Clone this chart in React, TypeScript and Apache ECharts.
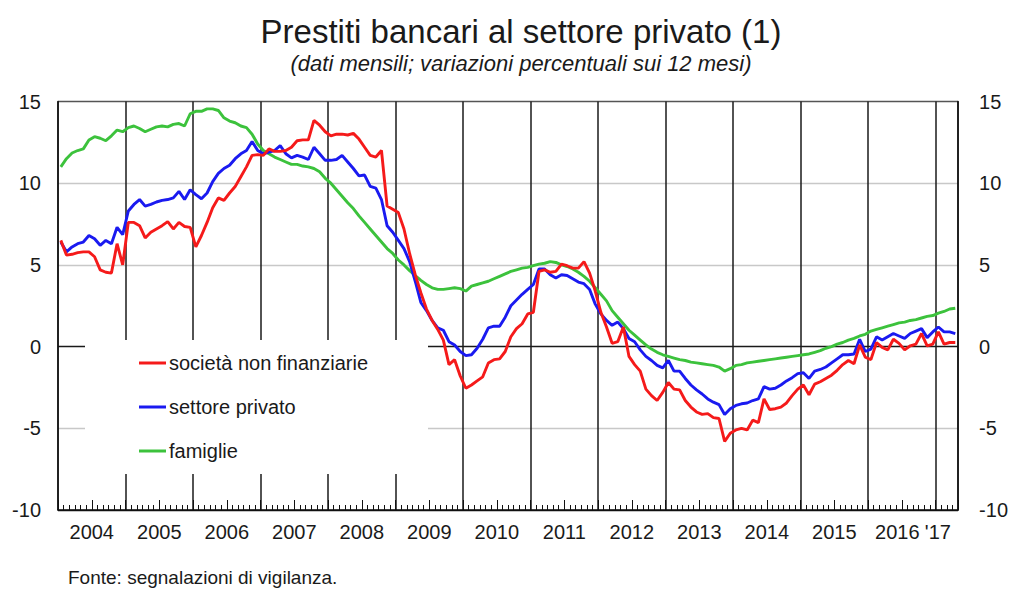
import React, { useEffect, useRef } from "react";
import * as echarts from "echarts";

const FONT = "'Liberation Sans', Arial, Helvetica, sans-serif";

const titleText = "Prestiti bancari al settore privato (1)";
const subtitleText = "(dati mensili; variazioni percentuali sui 12 mesi)";
const sourceText = "Fonte: segnalazioni di vigilanza.";

const seriesNames = ["società non finanziarie", "settore privato", "famiglie"];
const seriesColors = ["#f51a1a", "#1a1af0", "#3cc23c"];

// year labels (last one for 2017)
const yearLabels = [
  "2004", "2005", "2006", "2007", "2008", "2009", "2010",
  "2011", "2012", "2013", "2014", "2015", "2016", "'17",
];
// label position in months from Jan 2004 (centre of each year; last two nudged apart as in the original)
const yearLabelPos = [6, 18, 30, 42, 54, 66, 78, 90, 102, 114, 126, 138, 149.2, 156.4];

// monthly categories: Jan 2004 – Apr 2017
const months: string[] = [];
for (let y = 2004; y <= 2017; y++) {
  for (let m = 1; m <= 12; m++) {
    if (y === 2017 && m > 4) break;
    months.push(`${y}-${String(m).padStart(2, "0")}`);
  }
}

const yTicks = [-10, -5, 0, 5, 10, 15];

// società non finanziarie (12-month % change)
const societaNonFinanziarie = [
  6.5, 5.6, 5.65, 5.75, 5.8, 5.8, 5.5, 4.7, 4.55, 4.5, 6.3, 5.0, // 2004
  7.6, 7.6, 7.4, 6.65, 7.0, 7.2, 7.4, 7.65, 7.2, 7.6, 7.35, 7.3, // 2005
  6.1, 6.8, 7.6, 8.5, 9.1, 8.95, 9.4, 9.8, 10.4, 11.0, 11.7, 11.75, // 2006
  11.7, 12.1, 11.95, 11.95, 12.0, 12.2, 12.6, 12.65, 12.65, 13.85, 13.55, 13.15, // 2007
  12.9, 13.0, 13.0, 12.95, 13.05, 12.7, 12.2, 11.7, 11.6, 12.0, 8.6, 8.4, // 2008
  8.2, 7.2, 5.7, 4.4, 3.3, 2.3, 1.6, 1.05, 0.4, -1.1, -0.8, -1.8, // 2009
  -2.55, -2.35, -2.1, -1.85, -1.0, -0.8, -0.75, -0.3, 0.6, 1.1, 1.4, 2.0, // 2010
  2.1, 4.6, 4.7, 4.55, 4.6, 5.05, 4.95, 4.8, 4.8, 5.2, 4.5, 3.4, // 2011
  2.1, 1.2, 0.2, 0.3, 1.2, -0.6, -1.1, -1.5, -2.6, -3.0, -3.3, -2.8, // 2012
  -2.2, -2.6, -2.65, -3.3, -3.7, -4.0, -4.15, -4.1, -4.35, -4.4, -5.8, -5.3, // 2013
  -5.1, -5.0, -5.1, -4.5, -4.65, -3.2, -3.85, -3.8, -3.7, -3.45, -3.0, -2.6, // 2014
  -2.35, -2.95, -2.3, -2.15, -1.95, -1.75, -1.45, -1.1, -0.85, -1.05, 0.1, -0.65, // 2015
  -0.8, 0.25, -0.05, -0.2, 0.45, 0.2, -0.2, 0.05, 0.15, 0.8, 0.05, 0.15, // 2016
  0.9, 0.15, 0.25, 0.25, // 2017
];

// settore privato
const settorePrivato = [
  6.4, 5.8, 6.1, 6.3, 6.4, 6.8, 6.6, 6.2, 6.5, 6.3, 7.3, 6.85, // 2004
  8.3, 8.7, 9.0, 8.6, 8.7, 8.85, 8.95, 9.0, 9.1, 9.5, 9.0, 9.6, // 2005
  9.3, 9.05, 9.4, 10.1, 10.6, 10.9, 11.1, 11.5, 11.8, 12.0, 12.55, 12.0, // 2006
  11.8, 11.9, 12.0, 12.3, 11.8, 11.55, 11.7, 11.6, 11.45, 12.2, 11.8, 11.4, // 2007
  11.4, 11.45, 11.7, 11.3, 10.9, 10.45, 10.5, 9.8, 9.7, 9.0, 7.4, 7.0, // 2008
  6.5, 6.0, 5.2, 4.0, 2.7, 2.2, 1.6, 1.15, 1.0, 0.3, 0.1, -0.3, // 2009
  -0.55, -0.5, -0.1, 0.45, 1.15, 1.25, 1.25, 1.8, 2.5, 2.85, 3.2, 3.5, // 2010
  3.8, 4.75, 4.75, 4.4, 4.2, 4.4, 4.35, 4.15, 3.95, 3.85, 3.5, 2.6, // 2011
  2.0, 1.6, 1.3, 1.5, 1.1, 0.5, 0.3, -0.2, -0.6, -0.85, -1.15, -1.3, // 2012
  -0.85, -1.5, -1.5, -1.95, -2.35, -2.65, -2.9, -3.2, -3.4, -3.55, -4.15, -3.8, // 2013
  -3.6, -3.5, -3.45, -3.3, -3.2, -2.45, -2.6, -2.55, -2.35, -2.1, -1.9, -1.65, // 2014
  -1.6, -1.95, -1.5, -1.4, -1.25, -1.0, -0.75, -0.5, -0.5, -0.45, 0.45, -0.3, // 2015
  -0.15, 0.6, 0.4, 0.6, 0.8, 0.65, 0.5, 0.8, 0.95, 1.1, 0.55, 0.9, // 2016
  1.2, 0.9, 0.9, 0.8, // 2017
];

// famiglie
const famiglie = [
  11.0, 11.5, 11.85, 12.0, 12.1, 12.65, 12.85, 12.75, 12.6, 12.9, 13.25, 13.15, // 2004
  13.4, 13.5, 13.35, 13.15, 13.3, 13.45, 13.5, 13.45, 13.6, 13.65, 13.5, 14.25, // 2005
  14.4, 14.4, 14.55, 14.55, 14.45, 14.0, 13.8, 13.7, 13.5, 13.4, 13.0, 12.4, // 2006
  12.0, 11.8, 11.6, 11.45, 11.3, 11.15, 11.15, 11.05, 11.0, 10.9, 10.7, 10.3, // 2007
  10.0, 9.6, 9.2, 8.8, 8.45, 8.0, 7.6, 7.2, 6.8, 6.4, 6.0, 5.7, // 2008
  5.3, 5.0, 4.65, 4.35, 4.05, 3.8, 3.6, 3.5, 3.5, 3.55, 3.6, 3.55, // 2009
  3.4, 3.7, 3.8, 3.9, 4.0, 4.15, 4.3, 4.45, 4.6, 4.7, 4.8, 4.85, // 2010
  4.95, 5.05, 5.1, 5.2, 5.15, 5.0, 4.9, 4.75, 4.55, 4.3, 4.0, 3.6, // 2011
  3.2, 2.8, 2.2, 1.8, 1.4, 1.0, 0.7, 0.4, 0.1, -0.15, -0.35, -0.5, // 2012
  -0.6, -0.7, -0.8, -0.85, -0.95, -1.0, -1.05, -1.1, -1.15, -1.25, -1.5, -1.35, // 2013
  -1.15, -1.1, -1.0, -0.95, -0.9, -0.85, -0.8, -0.75, -0.7, -0.65, -0.6, -0.55, // 2014
  -0.5, -0.45, -0.35, -0.25, -0.1, 0.0, 0.15, 0.25, 0.4, 0.5, 0.65, 0.75, // 2015
  0.95, 1.05, 1.15, 1.25, 1.35, 1.45, 1.5, 1.6, 1.65, 1.75, 1.85, 1.9, // 2016
  2.05, 2.15, 2.3, 2.35, // 2017
];

const seriesData = [societaNonFinanziarie, settorePrivato, famiglie];

export default function App() {
  const ref = useRef<HTMLDivElement>(null);

  useEffect(() => {
    if (!ref.current) return;
    const chart = echarts.init(ref.current, undefined, { renderer: "svg" });
    const nMonths = months.length;

    const option: any = {
      animation: false,
      backgroundColor: "#ffffff",
      textStyle: { fontFamily: FONT },
      title: [
        {
          text: titleText,
          left: 521,
          top: 15,
          textAlign: "center",
          padding: 0,
          textStyle: { fontSize: 33, fontWeight: "normal", color: "#1a1a1a", fontFamily: FONT },
        },
        {
          text: subtitleText,
          left: 521,
          top: 52,
          textAlign: "center",
          padding: 0,
          textStyle: { fontSize: 22, fontWeight: "normal", fontStyle: "italic", color: "#1a1a1a", fontFamily: FONT },
        },
        {
          text: sourceText,
          left: 68,
          top: 568,
          padding: 0,
          textStyle: { fontSize: 19, fontWeight: "normal", color: "#1a1a1a", fontFamily: FONT },
        },
      ],
      legend: {
        orient: "vertical",
        left: 139,
        top: 353,
        padding: 0,
        itemWidth: 27,
        itemHeight: 3,
        itemGap: 24,
        icon: "rect",
        data: seriesNames,
        textStyle: { fontSize: 20, color: "#1a1a1a", fontFamily: FONT, lineHeight: 20, padding: [0, 0, 0, -2] },
      },
      grid: { left: 58, right: 52, top: 101.5, bottom: 80, containLabel: false },
      xAxis: [
        {
          type: "category",
          data: months,
          boundaryGap: true,
          position: "bottom",
          axisLine: { show: true, onZero: false, lineStyle: { color: "#111", width: 1.5 } },
          axisTick: { show: true, interval: 0, inside: true, length: 5, lineStyle: { color: "#111", width: 1 } },
          axisLabel: { show: false },
          splitLine: {
            show: true,
            interval: (i: number) => i % 12 === 0,
            lineStyle: { color: "#1a1a1a", width: 1.5 },
          },
        },
        {
          type: "value",
          min: 0,
          max: nMonths,
          interval: 6,
          position: "bottom",
          axisLine: { show: false, onZero: false },
          axisTick: { show: true, inside: true, length: 10, lineStyle: { color: "#111", width: 1 } },
          splitLine: { show: false },
          axisLabel: {
            show: true,
            margin: 12,
            fontSize: 20,
            color: "#1a1a1a",
            fontFamily: FONT,
            customValues: yearLabelPos,
            formatter: (v: number) => {
              const idx = yearLabelPos.indexOf(v);
              return idx >= 0 ? yearLabels[idx] : "";
            },
          },
        },
      ],
      yAxis: [
        {
          type: "value",
          min: yTicks[0],
          max: yTicks[yTicks.length - 1],
          interval: 5,
          position: "left",
          axisLine: { show: true, onZero: false, lineStyle: { color: "#111", width: 1.5 } },
          axisTick: { show: false },
          axisLabel: { margin: 17, fontSize: 20, color: "#1a1a1a", fontFamily: FONT },
          splitLine: {
            show: true,
            lineStyle: {
              color: ["#111", "#c8c8c8", "#1a1a1a", "#c8c8c8", "#c8c8c8", "#555"],
              width: 1.4,
            },
          },
        },
        {
          type: "value",
          min: yTicks[0],
          max: yTicks[yTicks.length - 1],
          interval: 5,
          position: "right",
          axisLine: { show: true, onZero: false, lineStyle: { color: "#111", width: 1.5 } },
          axisTick: { show: false },
          axisLabel: { margin: 21, fontSize: 20, color: "#1a1a1a", fontFamily: FONT },
          splitLine: { show: false },
        },
      ],
      graphic: [
        {
          type: "rect",
          z: 1,
          shape: { x: 85, y: 340, width: 343, height: 134 },
          style: { fill: "#ffffff" },
          silent: true,
        },
      ],
      series: seriesNames.map((name, k) => ({
        name,
        type: "line",
        xAxisIndex: 0,
        yAxisIndex: 0,
        data: seriesData[k],
        showSymbol: false,
        symbol: "none",
        smooth: false,
        z: 3 + (2 - k),
        color: seriesColors[k],
        lineStyle: { color: seriesColors[k], width: 2.9 },
        itemStyle: { color: seriesColors[k] },
      })),
    };

    chart.setOption(option);
    return () => {
      chart.dispose();
    };
  }, []);

  return (
    <div
      ref={ref}
      style={{ position: "fixed", left: 0, top: 0, width: 1011, height: 590, background: "#fff" }}
    />
  );
}
